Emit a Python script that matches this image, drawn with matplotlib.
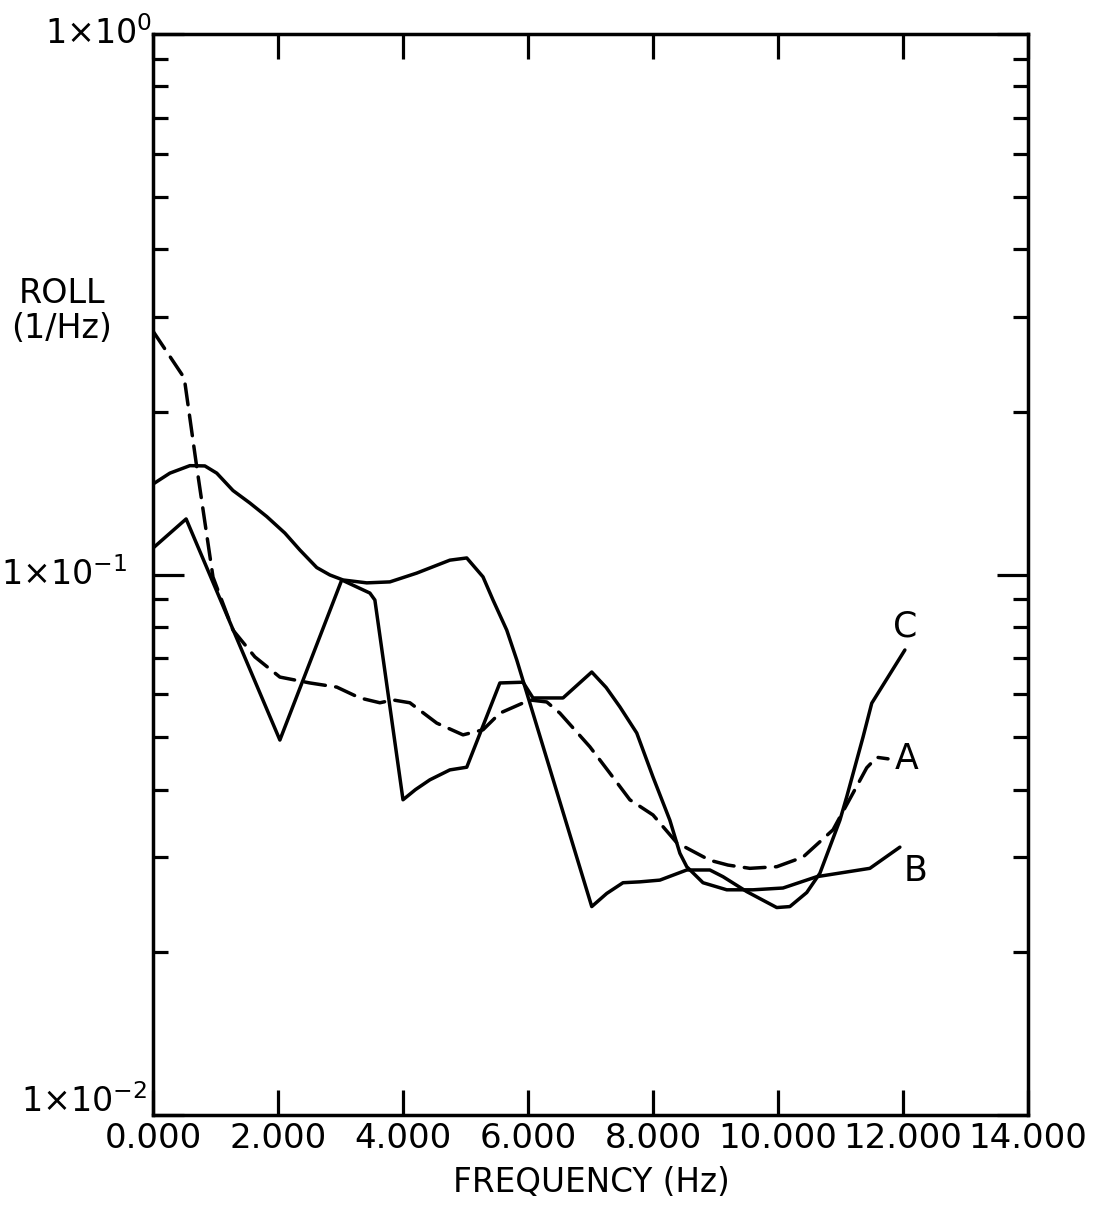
import matplotlib
matplotlib.use("Agg")
import matplotlib.pyplot as plt
import matplotlib.transforms as mtransforms
from matplotlib.ticker import LogLocator, FixedLocator, NullFormatter

# Roll power spectral density (1/Hz) versus frequency (Hz)
a_freq = [0.0, 0.50, 0.70, 0.96, 1.28, 1.63, 2.03, 2.51, 2.94, 3.31, 3.63,
          3.84, 4.11, 4.54, 4.96, 5.28, 5.55, 6.03, 6.30, 6.51, 6.99, 7.31,
          7.63, 8.00, 8.38, 8.91, 9.20, 9.55, 9.98, 10.40, 10.88, 11.20,
          11.42, 11.58, 11.76]
a_roll = [0.282, 0.231, 0.158, 0.0989, 0.0789, 0.0704, 0.0646, 0.0630, 0.0619,
          0.0591, 0.0579, 0.0586, 0.0579, 0.0531, 0.0505, 0.0516, 0.0554,
          0.0586, 0.0581, 0.0554, 0.0480, 0.0429, 0.0383, 0.0359, 0.0319,
          0.0296, 0.0290, 0.0286, 0.0288, 0.0300, 0.0337, 0.0394, 0.0439,
          0.0459, 0.0456]

b_freq = [0.0, 0.53, 2.03, 3.02, 3.47, 3.55, 4.00, 4.20, 4.43, 4.75, 5.02,
          5.55, 5.92, 6.08, 6.56, 7.02, 7.25, 7.47, 7.74, 8.00, 8.27, 8.43,
          8.54, 8.80, 9.18, 9.60, 10.08, 10.62, 11.47, 11.95]
b_roll = [0.1119, 0.1267, 0.0494, 0.0977, 0.0924, 0.0897, 0.0383, 0.0400,
          0.0417, 0.0435, 0.0440, 0.0630, 0.0632, 0.0591, 0.0591, 0.0660,
          0.0618, 0.0569, 0.0509, 0.0422, 0.0351, 0.0305, 0.0288, 0.0269,
          0.0261, 0.0261, 0.0263, 0.0276, 0.0286, 0.0313]

c_freq = [0.0, 0.27, 0.59, 0.83, 1.02, 1.28, 1.55, 1.82, 2.11, 2.35, 2.62,
          2.83, 3.04, 3.42, 3.79, 4.22, 4.75, 5.02, 5.28, 5.44, 5.66, 5.82,
          7.02, 7.26, 7.52, 7.79, 8.11, 8.54, 8.91, 9.12, 9.50, 9.98, 10.19,
          10.46, 10.67, 10.99, 11.10, 11.36, 11.50, 11.63, 12.03]
c_roll = [0.147, 0.154, 0.159, 0.1588, 0.154, 0.143, 0.1356, 0.128, 0.1193,
          0.111, 0.103, 0.0998, 0.0977, 0.0965, 0.0969, 0.1006, 0.1063,
          0.1073, 0.0990, 0.0897, 0.0789, 0.0695, 0.0243, 0.0257, 0.0269,
          0.0270, 0.0272, 0.0284, 0.0284, 0.0276, 0.0259, 0.0242, 0.0243,
          0.0258, 0.0280, 0.0351, 0.0388, 0.0500, 0.0578, 0.0611, 0.0725]

# curve labels: (text, frequency, roll)
curve_labels = [("C", 12.03, 0.0800), ("A", 12.05, 0.0456), ("B", 12.20, 0.0283)]

x_ticks = [0, 2, 4, 6, 8, 10, 12, 14]
y_ticks = [1e0, 1e-1, 1e-2]
y_tick_texts = [r"$1{\times}10^{0}$", r"$1{\times}10^{-1}$", r"$1{\times}10^{-2}$"]
y_label_dx = [-0.001, -0.029, -0.007]   # axes fraction
y_label_dy = [0, 0, 10]                  # points

plt.rcParams["font.family"] = ["DejaVu Sans"]
plt.rcParams["mathtext.fontset"] = "dejavusans"

fig = plt.figure(figsize=(10.96, 12.07), dpi=100)
ax = fig.add_axes([153 / 1096, 1 - 1115 / 1207, 875 / 1096, 1081 / 1207])

lw = 2.5
ax.plot(a_freq, a_roll, color="black", lw=lw, dashes=(6, 3),
        solid_joinstyle="round", dash_joinstyle="round", dash_capstyle="round")
ax.plot(b_freq, b_roll, color="black", lw=lw, solid_joinstyle="round",
        solid_capstyle="round")
ax.plot(c_freq, c_roll, color="black", lw=lw, solid_joinstyle="round",
        solid_capstyle="round")

for txt, fx, fy in curve_labels:
    ax.text(fx, fy, txt, fontsize=25, ha="center", va="center")

ax.set_yscale("log")
ax.set_xlim(0, 14)
ax.set_ylim(1e-2, 1e0)

ax.xaxis.set_major_locator(FixedLocator(x_ticks))
ax.set_xticklabels([f"{v:.3f}" for v in x_ticks], fontsize=24.5)
ax.yaxis.set_major_locator(FixedLocator(y_ticks))
ax.yaxis.set_minor_locator(LogLocator(base=10, subs=range(2, 10)))
ax.yaxis.set_minor_formatter(NullFormatter())

ax.tick_params(axis="both", which="both", direction="in", top=True, right=True,
               labelleft=False, color="black")
ax.tick_params(axis="x", which="major", length=18, width=2.3, pad=5)
ax.tick_params(axis="y", which="major", length=22, width=2.3)
ax.tick_params(axis="y", which="minor", length=11, width=2.3)

for sp in ax.spines.values():
    sp.set_linewidth(2.5)

blend = mtransforms.blended_transform_factory(ax.transAxes, ax.transData)
for yv, txt, dx, dy in zip(y_ticks, y_tick_texts, y_label_dx, y_label_dy):
    tr = blend + mtransforms.ScaledTranslation(0, dy / 72, fig.dpi_scale_trans)
    ax.text(dx, yv, txt, transform=tr, ha="right", va="center", fontsize=24,
            clip_on=False)

fig.text(62 / 1096, 1 - 311 / 1207, "ROLL\n(1/Hz)", ha="center", va="center",
         fontsize=24, linespacing=1.1)
fig.text(591 / 1096, 1 - 1183 / 1207, "FREQUENCY (Hz)", ha="center",
         va="center", fontsize=23.5)

fig.savefig("out.png", dpi=100)
